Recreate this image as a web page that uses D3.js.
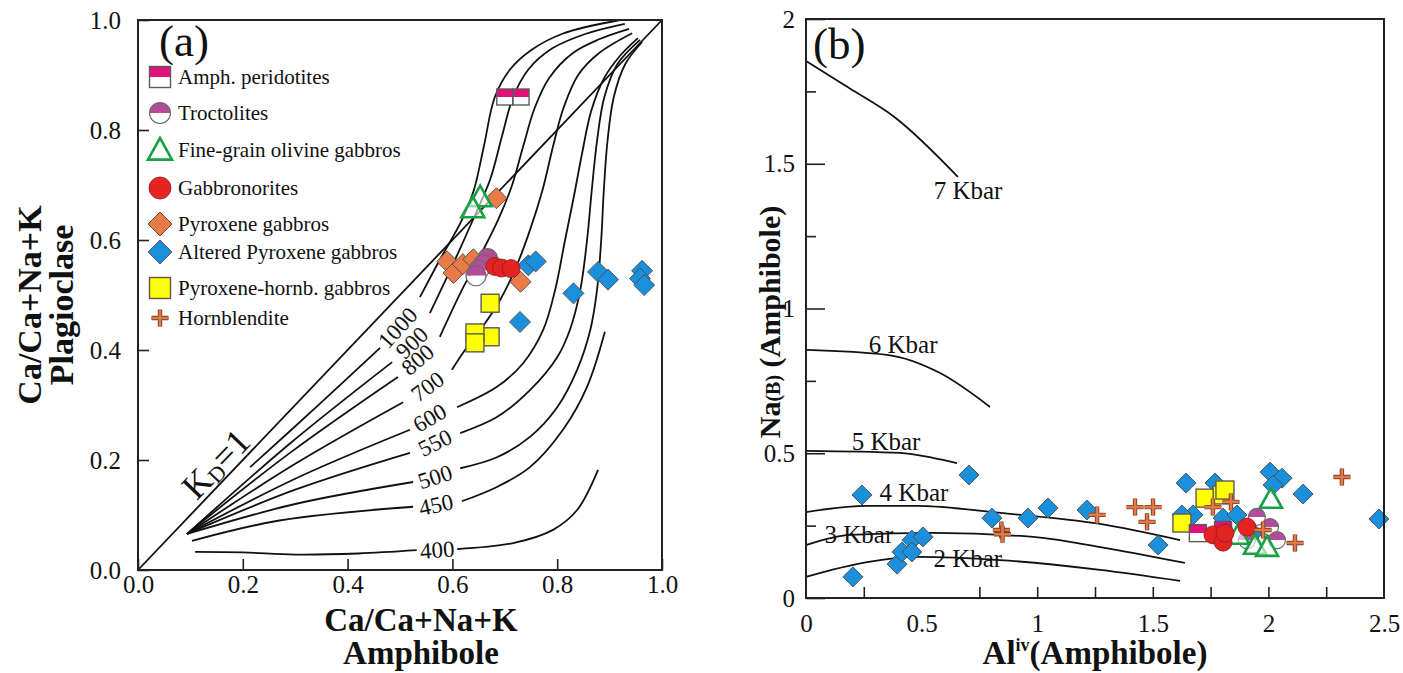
<!DOCTYPE html>
<html>
<head>
<meta charset="utf-8">
<script src="https://cdn.jsdelivr.net/npm/d3@7"></script>
<style>
  body { margin: 0; background: #fff; }
  text { font-family: "Liberation Serif", "Times New Roman", serif; fill: #111; }
</style>
</head>
<body>
<script>
var svgWidth = 1403;
var svgHeight = 673;

// ---------- panel (a) : isotherms
var isoTemps = ["1000", "900", "800", "700", "600", "550", "500", "450", "400"];

var isoLower = [
  [[0.214, 0.187], [0.34, 0.296], [0.462, 0.404]],
  [[0.0935, 0.0655], [0.29, 0.23], [0.485, 0.378]],
  [[0.0935, 0.0655], [0.29, 0.213], [0.496, 0.351]],
  [[0.0935, 0.0655], [0.3, 0.193], [0.506, 0.305]],
  [[0.0935, 0.0655], [0.3, 0.166], [0.519, 0.255]],
  [[0.0935, 0.0655], [0.3, 0.146], [0.519, 0.213]],
  [[0.0935, 0.0655], [0.3, 0.12], [0.525, 0.16]],
  [[0.103, 0.053], [0.27, 0.09], [0.525, 0.115]],
  [[0.109, 0.033], [0.2, 0.032], [0.3, 0.028], [0.42, 0.03], [0.532, 0.036]]
];

var isoUpper = [
  [[0.538, 0.496], [0.576, 0.564], [0.618, 0.636], [0.641, 0.691], [0.66, 0.77], [0.681, 0.86], [0.71, 0.91], [0.75, 0.945], [0.81, 0.975], [0.92, 1.0]],
  [[0.557, 0.467], [0.605, 0.564], [0.643, 0.645], [0.672, 0.71], [0.695, 0.79], [0.716, 0.86], [0.745, 0.91], [0.79, 0.948], [0.855, 0.975], [0.929, 0.993]],
  [[0.576, 0.424], [0.618, 0.509], [0.649, 0.564], [0.687, 0.636], [0.714, 0.7], [0.735, 0.77], [0.757, 0.84], [0.785, 0.895], [0.83, 0.94], [0.88, 0.965], [0.937, 0.984]],
  [[0.599, 0.364], [0.624, 0.4], [0.653, 0.436], [0.691, 0.491], [0.719, 0.545], [0.748, 0.618], [0.772, 0.691], [0.792, 0.77], [0.812, 0.84], [0.84, 0.9], [0.88, 0.94], [0.943, 0.976]],
  [[0.609, 0.296], [0.685, 0.333], [0.735, 0.376], [0.773, 0.436], [0.796, 0.509], [0.815, 0.6], [0.832, 0.68], [0.848, 0.76], [0.865, 0.835], [0.89, 0.895], [0.92, 0.935], [0.954, 0.967]],
  [[0.615, 0.249], [0.685, 0.278], [0.748, 0.327], [0.8, 0.387], [0.824, 0.436], [0.844, 0.509], [0.857, 0.6], [0.866, 0.691], [0.876, 0.78], [0.89, 0.86], [0.915, 0.92], [0.958, 0.964]],
  [[0.615, 0.185], [0.685, 0.205], [0.748, 0.242], [0.8, 0.296], [0.838, 0.364], [0.863, 0.436], [0.876, 0.509], [0.884, 0.6], [0.889, 0.691], [0.896, 0.78], [0.908, 0.86], [0.93, 0.92], [0.962, 0.96]],
  [[0.618, 0.125], [0.685, 0.151], [0.748, 0.187], [0.811, 0.255], [0.857, 0.333], [0.891, 0.433]],
  [[0.609, 0.038], [0.716, 0.049], [0.792, 0.073], [0.838, 0.109], [0.878, 0.182]]
];

var isoLabelPos = [[0.496, 0.44], [0.523, 0.413], [0.534, 0.382], [0.553, 0.333], [0.557, 0.276], [0.567, 0.231], [0.567, 0.169], [0.569, 0.118], [0.571, 0.036]];
var isoLabelAngle = [-48, -44, -40, -36, -30, -26, -18, -12, -4];

var kdLine = [[0, 0], [1, 1]];

// ---------- panel (a) : samples
var aPeridotite = [[0.700, 0.86], [0.731, 0.86]];
var aPyxGabbro = [[0.59, 0.561], [0.602, 0.54], [0.62, 0.556], [0.64, 0.565], [0.684, 0.676], [0.73, 0.524]];
var aAltered = [[0.745, 0.554], [0.759, 0.561], [0.831, 0.503], [0.878, 0.542], [0.897, 0.528], [0.729, 0.451], [0.962, 0.544], [0.958, 0.53], [0.966, 0.518]];
var aPyxHorn = [[0.672, 0.485], [0.672, 0.424], [0.643, 0.431], [0.643, 0.413]];
var aTroctolite = [[0.667, 0.566], [0.659, 0.555], [0.65, 0.545], [0.645, 0.535]];
var aGabbronorite = [[0.681, 0.552], [0.694, 0.549], [0.712, 0.548]];
var aOlGabbro = [[0.653, 0.678], [0.639, 0.658]];

// ---------- panel (b) : pressure curves
var kbarNames = ["7 Kbar", "6 Kbar", "5 Kbar", "4 Kbar", "3 Kbar", "2 Kbar"];
var kbarLines = [
  [[0, 1.855], [0.19, 1.76], [0.385, 1.66], [0.657, 1.455]],
  [[0, 0.857], [0.35, 0.84], [0.58, 0.777], [0.796, 0.66]],
  [[0, 0.508], [0.407, 0.501], [0.549, 0.484], [0.653, 0.466]],
  [[0, 0.297], [0.264, 0.318], [0.48, 0.318], [0.839, 0.294], [1.272, 0.256], [1.618, 0.2]],
  [[0, 0.183], [0.19, 0.218], [0.549, 0.225], [0.982, 0.211], [1.272, 0.176], [1.639, 0.121]],
  [[0, 0.073], [0.264, 0.124], [0.48, 0.142], [0.839, 0.131], [1.272, 0.097], [1.618, 0.059]]
];
var kbarLabelPos = [[0.701, 1.409], [0.42, 0.874], [0.346, 0.539], [0.467, 0.363], [0.229, 0.218], [0.70, 0.138]];

// ---------- panel (b) : samples
var bAltered = [[0.242, 0.356], [0.705, 0.425], [0.203, 0.073], [0.394, 0.117], [0.415, 0.159], [0.458, 0.2], [0.458, 0.159],
  [0.506, 0.211], [0.804, 0.276], [0.96, 0.276], [1.047, 0.311], [1.215, 0.304], [1.523, 0.183], [1.644, 0.397], [1.769, 0.397],
  [1.674, 0.287], [1.626, 0.287], [1.804, 0.276], [1.864, 0.287], [1.933, 0.224], [2.007, 0.435], [2.059, 0.414], [2.02, 0.39],
  [2.15, 0.359], [2.478, 0.273]];
var bPyxHorn = [[1.726, 0.345], [1.8, 0.356], [1.812, 0.373], [1.626, 0.259]];
var bPeridotite = [[1.695, 0.224], [1.804, 0.235]];
var bTroctolite = [[1.95, 0.28], [2.007, 0.245], [1.907, 0.2], [2.037, 0.2]];
var bOlGabbro = [[2.011, 0.342], [1.869, 0.218], [1.942, 0.183], [1.994, 0.176]];
var bGabbronorite = [[1.907, 0.245], [1.76, 0.218], [1.804, 0.193], [1.812, 0.224]];
var bHornblendite = [[0.845, 0.235], [0.85, 0.22], [1.259, 0.287], [1.423, 0.314], [1.501, 0.314], [1.475, 0.263], [1.76, 0.314],
  [1.838, 0.332], [1.977, 0.235], [2.115, 0.19], [2.318, 0.418]];

// legend
var legendNames = ["Amph. peridotites", "Troctolites", "Fine-grain olivine gabbros", "Gabbronorites",
  "Pyroxene gabbros", "Altered Pyroxene gabbros", "Pyroxene-hornb. gabbros", "Hornblendite"];
var legendTypes = ["perid", "troct", "olgab", "gabnor", "pyxgab", "altered", "pyxhorn", "hbl"];

var PINK = "#e2127b", PURPLE = "#b44c9a", GREEN = "#17a046", RED = "#e42421",
  ORANGE = "#ea7b45", BLUE = "#1a90dc", YELLOW = "#ffff00", CROSS = "#e07a48";

var svg = d3.select("body")
  .append("svg")
  .attr("width", svgWidth)
  .attr("height", svgHeight);

// scales
var xA = d3.scaleLinear().domain([0, 1]).range([138, 662]);
var yA = d3.scaleLinear().domain([0, 1]).range([570, 20]);
var xB = d3.scaleLinear().domain([0, 2.5]).range([806, 1384]);
var yB = d3.scaleLinear().domain([0, 2]).range([598, 19]);

// draws one symbol centred on cx, cy
function drawMarker(g, type, cx, cy, s) {
  if (type === "perid" || type === "pyxhorn") {
    var h = s / 2;
    if (type === "perid") {
      g.append("rect").attr("x", cx - h).attr("y", cy - h).attr("width", s).attr("height", h).attr("fill", PINK);
      g.append("rect").attr("x", cx - h).attr("y", cy).attr("width", s).attr("height", h).attr("fill", "#fff");
    }
    g.append("rect").attr("x", cx - h).attr("y", cy - h).attr("width", s).attr("height", s)
      .attr("fill", type === "perid" ? "none" : YELLOW)
      .attr("stroke", "#5a5a5a").attr("stroke-width", 1.4);
  } else if (type === "troct") {
    var r = s / 2;
    g.append("path").attr("d", `M${cx - r},${cy}A${r},${r} 0 0 1 ${cx + r},${cy}Z`).attr("fill", PURPLE);
    g.append("path").attr("d", `M${cx - r},${cy}A${r},${r} 0 0 0 ${cx + r},${cy}Z`).attr("fill", "#fff");
    g.append("circle").attr("cx", cx).attr("cy", cy).attr("r", r)
      .attr("fill", "none").attr("stroke", "#6a6a6a").attr("stroke-width", 1.2);
  } else if (type === "gabnor") {
    g.append("circle").attr("cx", cx).attr("cy", cy).attr("r", s / 2)
      .attr("fill", RED).attr("stroke", "#8a1d1d").attr("stroke-width", 0.8);
  } else if (type === "olgab") {
    var w = s / 2;
    g.append("path")
      .attr("d", `M${cx},${cy - s * 0.5}L${cx + w},${cy + s * 0.4}L${cx - w},${cy + s * 0.4}Z`)
      .attr("fill", "#fff").attr("fill-opacity", 0.6)
      .attr("stroke", GREEN).attr("stroke-width", 2.6).attr("stroke-linejoin", "miter");
  } else if (type === "pyxgab" || type === "altered") {
    var d = s / 2;
    g.append("path")
      .attr("d", `M${cx},${cy - d}L${cx + d},${cy}L${cx},${cy + d}L${cx - d},${cy}Z`)
      .attr("fill", type === "pyxgab" ? ORANGE : BLUE)
      .attr("stroke", "#4a4a4a").attr("stroke-width", 0.9);
  } else if (type === "hbl") {
    var c = s / 2;
    var p = `M${cx - c},${cy}H${cx + c}M${cx},${cy - c}V${cy + c}`;
    g.append("path").attr("d", p).attr("stroke", "#7a3f22").attr("stroke-width", 4.4);
    g.append("path").attr("d", p).attr("stroke", CROSS).attr("stroke-width", 2.6);
  }
}

function plotGroup(data, type, xs, ys, s) {
  var g = svg.append("g");
  data.forEach(function(d) {
    drawMarker(g, type, xs(d[0]), ys(d[1]), s);
  });
}

function styleAxis(g) {
  g.select(".domain").remove();
  g.attr("font-family", '"Liberation Serif", "Times New Roman", serif').attr("font-size", 25);
  g.selectAll(".tick line").attr("stroke", "#222").attr("stroke-width", 1.6);
  g.selectAll(".tick text").attr("fill", "#111");
}

// =================== PANEL (a)
var lineA = d3.line().x(d => xA(d[0])).y(d => yA(d[1])).curve(d3.curveCatmullRom.alpha(0.5));

svg.append("g").attr("transform", "translate(0,570)")
  .call(d3.axisBottom(xA).tickValues([0, 0.2, 0.4, 0.6, 0.8, 1]).tickFormat(d3.format(".1f"))
    .tickSizeInner(-11).tickSizeOuter(0).tickPadding(5))
  .call(styleAxis);

svg.append("g").attr("transform", "translate(138,0)")
  .call(d3.axisLeft(yA).tickValues([0, 0.2, 0.4, 0.6, 0.8, 1]).tickFormat(d3.format(".1f"))
    .tickSizeInner(-11).tickSizeOuter(0).tickPadding(17))
  .call(styleAxis);

var curvesA = svg.append("g").attr("fill", "none").attr("stroke", "#111").attr("stroke-width", 1.8);
curvesA.append("path").attr("d", lineA(kdLine));
isoLower.forEach(function(seg) { curvesA.append("path").attr("d", lineA(seg)); });
isoUpper.forEach(function(seg) { curvesA.append("path").attr("d", lineA(seg)); });

isoTemps.forEach(function(t, i) {
  svg.append("text")
    .attr("transform", `translate(${xA(isoLabelPos[i][0])},${yA(isoLabelPos[i][1])}) rotate(${isoLabelAngle[i]})`)
    .attr("text-anchor", "middle")
    .attr("dominant-baseline", "central")
    .attr("font-size", 23)
    .text(t);
});

// K_D = 1
var kdText = svg.append("text")
  .attr("transform", `translate(${xA(0.112)},${yA(0.125)}) rotate(-46)`)
  .attr("font-size", 36);
kdText.append("tspan").text("K");
kdText.append("tspan").attr("font-size", 22).attr("dy", 3).text("D");
kdText.append("tspan").attr("dy", -3).text("=1");

plotGroup(aAltered, "altered", xA, yA, 21);
plotGroup(aPyxGabbro, "pyxgab", xA, yA, 21);
plotGroup(aPeridotite, "perid", xA, yA, 16);
plotGroup(aPyxHorn, "pyxhorn", xA, yA, 18);
plotGroup(aTroctolite, "troct", xA, yA, 20);
plotGroup(aGabbronorite, "gabnor", xA, yA, 18);
plotGroup(aOlGabbro, "olgab", xA, yA, 23);

svg.append("rect").attr("x", 138).attr("y", 20).attr("width", 524).attr("height", 550)
  .attr("fill", "none").attr("stroke", "#222").attr("stroke-width", 2);

svg.append("text").attr("x", 159).attr("y", 56).attr("font-size", 45).text("(a)");

// legend
var legendY = [77, 113, 150, 188, 224, 252, 288, 318];
var legendSize = [21, 21, 24, 22, 24, 24, 21, 17];
var legend = svg.append("g");
legendNames.forEach(function(name, i) {
  drawMarker(legend, legendTypes[i], 160, legendY[i], legendSize[i]);
  legend.append("text").attr("x", 178).attr("y", legendY[i] + 7).attr("font-size", 21).text(name);
});

// axis titles (a)
svg.append("text").attr("x", 421).attr("y", 631).attr("text-anchor", "middle")
  .attr("font-size", 33).attr("font-weight", "bold").text("Ca/Ca+Na+K");
svg.append("text").attr("x", 421).attr("y", 664).attr("text-anchor", "middle")
  .attr("font-size", 33).attr("font-weight", "bold").text("Amphibole");
svg.append("text").attr("transform", "translate(41,305) rotate(-90)").attr("text-anchor", "middle")
  .attr("font-size", 34).attr("font-weight", "bold").text("Ca/Ca+Na+K");
svg.append("text").attr("transform", "translate(73,305) rotate(-90)").attr("text-anchor", "middle")
  .attr("font-size", 34).attr("font-weight", "bold").text("Plagioclase");

// =================== PANEL (b)
var lineB = d3.line().x(d => xB(d[0])).y(d => yB(d[1])).curve(d3.curveMonotoneX);

svg.append("g").attr("transform", "translate(0,598)")
  .call(d3.axisBottom(xB).tickValues([0, 0.5, 1, 1.5, 2, 2.5]).tickFormat(d3.format("~g"))
    .tickSize(0).tickPadding(16))
  .call(styleAxis);
svg.append("g").attr("transform", "translate(0,598)")
  .call(d3.axisBottom(xB).tickValues([0.25, 0.75, 1, 1.25, 1.5, 1.75, 2, 2.25]).tickFormat("")
    .tickSizeInner(-11).tickSizeOuter(0))
  .call(styleAxis);

svg.append("g").attr("transform", "translate(806,0)")
  .call(d3.axisLeft(yB).tickValues([0, 0.5, 1, 1.5, 2]).tickFormat(d3.format("~g"))
    .tickSizeInner(-19).tickSizeOuter(0).tickPadding(11))
  .call(styleAxis);
svg.append("g").attr("transform", "translate(806,0)")
  .call(d3.axisLeft(yB).tickValues([0.25, 0.75, 1.25, 1.75]).tickFormat("")
    .tickSizeInner(-10).tickSizeOuter(0))
  .call(styleAxis);

var curvesB = svg.append("g").attr("fill", "none").attr("stroke", "#111").attr("stroke-width", 1.8);
kbarLines.forEach(function(seg) { curvesB.append("path").attr("d", lineB(seg)); });

kbarNames.forEach(function(name, i) {
  svg.append("text")
    .attr("x", xB(kbarLabelPos[i][0])).attr("y", yB(kbarLabelPos[i][1]))
    .attr("text-anchor", "middle").attr("dominant-baseline", "central")
    .attr("font-size", 25).text(name);
});

plotGroup(bAltered, "altered", xB, yB, 20);
plotGroup(bPyxHorn, "pyxhorn", xB, yB, 18);
plotGroup(bPeridotite, "perid", xB, yB, 17);
plotGroup(bTroctolite, "troct", xB, yB, 17);
plotGroup(bOlGabbro, "olgab", xB, yB, 22);
plotGroup(bGabbronorite, "gabnor", xB, yB, 18);
plotGroup(bHornblendite, "hbl", xB, yB, 17);

svg.append("rect").attr("x", 806).attr("y", 19).attr("width", 578).attr("height", 579)
  .attr("fill", "none").attr("stroke", "#222").attr("stroke-width", 2);

svg.append("text").attr("x", 813).attr("y", 59).attr("font-size", 45).text("(b)");

// axis titles (b)
var xTitleB = svg.append("text").attr("x", 1095).attr("y", 664).attr("text-anchor", "middle")
  .attr("font-size", 33).attr("font-weight", "bold");
xTitleB.append("tspan").text("Al");
xTitleB.append("tspan").attr("font-size", 18).attr("dy", -13).text("iv");
xTitleB.append("tspan").attr("dy", 13).text("(Amphibole)");

var yTitleB = svg.append("text").attr("transform", "translate(780,322) rotate(-90)").attr("text-anchor", "middle")
  .attr("font-size", 30).attr("font-weight", "bold");
yTitleB.append("tspan").text("Na");
yTitleB.append("tspan").attr("font-size", 20).text("(B)");
yTitleB.append("tspan").text(" (Amphibole)");
</script>
</body>
</html>
